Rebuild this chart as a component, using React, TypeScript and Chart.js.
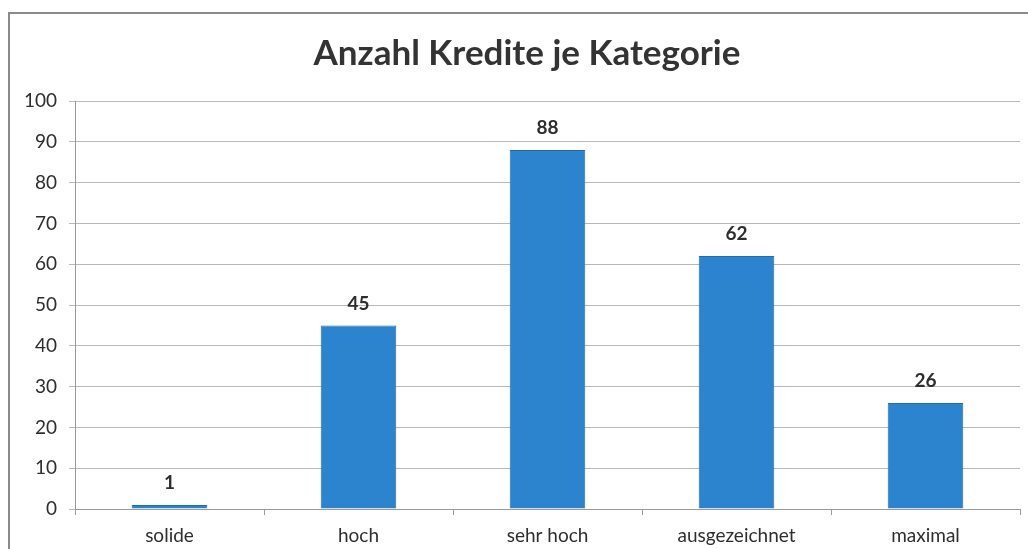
import React, { useEffect, useRef } from "react";
import { Chart, registerables } from "chart.js";

Chart.register(...registerables);

const categories = ["solide", "hoch", "sehr hoch", "ausgezeichnet", "maximal"];
const counts = [1, 45, 88, 62, 26];
const yTicks = [0, 10, 20, 30, 40, 50, 60, 70, 80, 90, 100];
const titleText = "Anzahl Kredite je Kategorie";

const FONT = "Lato, 'Open Sans', sans-serif";

const titlePlugin = {
  id: "customTitle",
  afterDraw(chart: any) {
    const ctx = chart.ctx;
    ctx.save();
    ctx.font = `bold 35px ${FONT}`;
    ctx.fillStyle = "#333333";
    ctx.textAlign = "center";
    ctx.textBaseline = "middle";
    ctx.fillText(titleText, 527, 54);
    ctx.restore();
  },
};

const labelPlugin = {
  id: "valueLabels",
  afterDatasetsDraw(chart: any) {
    const ctx = chart.ctx;
    const meta = chart.getDatasetMeta(0);
    ctx.save();
    ctx.font = `bold 19px ${FONT}`;
    ctx.fillStyle = "#2e2e2e";
    ctx.textAlign = "center";
    ctx.textBaseline = "middle";
    meta.data.forEach((bar: any, i: number) => {
      ctx.fillText(String(counts[i]), bar.x, bar.y - 22);
    });
    ctx.restore();
  },
};

const framePlugin = {
  id: "frame",
  beforeDraw(chart: any) {
    const ctx = chart.ctx;
    ctx.save();
    ctx.fillStyle = "#ffffff";
    ctx.fillRect(0, 0, chart.width, chart.height);
    ctx.strokeStyle = "#8a8a8a";
    ctx.lineWidth = 2;
    ctx.beginPath();
    ctx.moveTo(9, chart.height);
    ctx.lineTo(9, 13);
    ctx.lineTo(chart.width, 13);
    ctx.stroke();
    ctx.restore();
  },
};

export default function App() {
  const ref = useRef<HTMLCanvasElement | null>(null);
  useEffect(() => {
    if (!ref.current) return;
    const chart = new Chart(ref.current, {
      type: "bar",
      data: {
        labels: categories,
        datasets: [
          {
            data: counts,
            backgroundColor: "#2c84ce",
            borderColor: "#1e6db0",
            borderWidth: 1,
            barPercentage: 0.4,
            categoryPercentage: 1,
          },
        ],
      },
      options: {
        animation: false,
        responsive: false,
        maintainAspectRatio: false,
        layout: { padding: { top: 101, right: 8, left: 0, bottom: 0 } },
        plugins: {
          legend: { display: false },
          title: { display: false },
          tooltip: { enabled: false },
        },
        scales: {
          x: {
            offset: true,
            grid: {
              offset: true,
              drawOnChartArea: false,
              drawTicks: true,
              tickLength: 6,
              color: "#9a9a9a",
            },
            border: { display: true, color: "#9a9a9a" },
            ticks: {
              font: { family: FONT, size: 19 },
              color: "#2e2e2e",
              padding: 9,
            },
            afterFit(scale: any) {
              scale.height = 40;
            },
          },
          y: {
            min: 0,
            max: 100,
            afterBuildTicks(scale: any) {
              scale.ticks = yTicks.map((v) => ({ value: v }));
            },
            grid: {
              color: "#b8b8b8",
              tickLength: 6,
            },
            border: { display: true, color: "#9a9a9a" },
            ticks: {
              font: { family: FONT, size: 19 },
              color: "#2e2e2e",
              padding: 12,
            },
            afterFit(scale: any) {
              scale.width = 75;
            },
          },
        },
      },
      plugins: [framePlugin, titlePlugin, labelPlugin],
    });
    return () => chart.destroy();
  }, []);
  return (
    <div style={{ position: "fixed", left: 0, top: 0, width: 1028, height: 549, background: "#fff" }}>
      <canvas ref={ref} width={1028} height={549} style={{ display: "block" }} />
    </div>
  );
}
